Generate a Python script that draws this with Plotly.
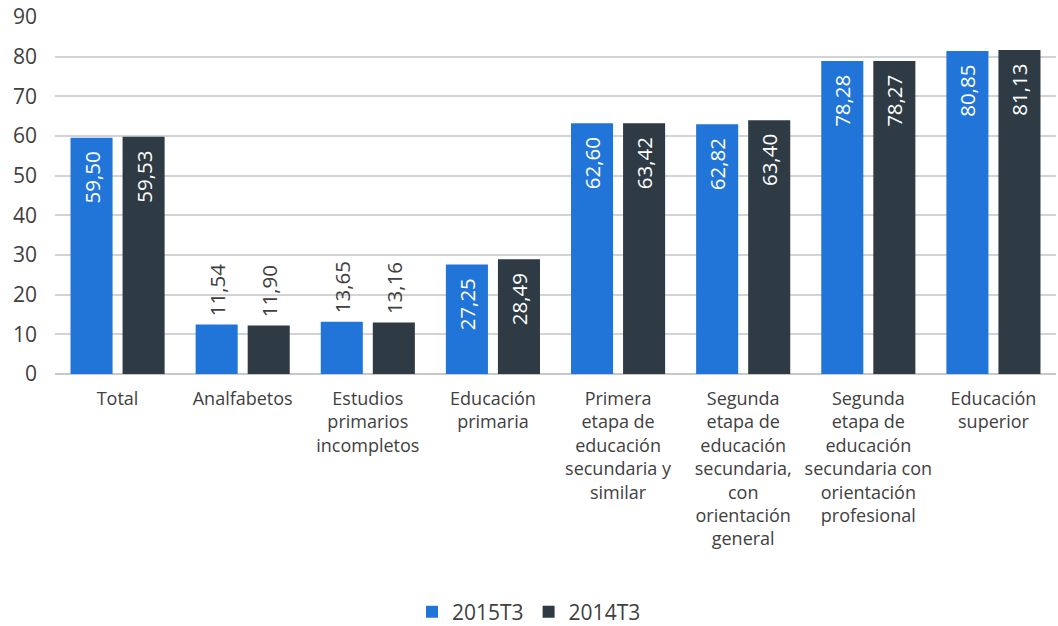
import plotly.graph_objects as go

categories = [
    "Total",
    "Analfabetos",
    "Estudios<br>primarios<br>incompletos",
    "Educación<br>primaria",
    "Primera<br>etapa de<br>educación<br>secundaria y<br>similar",
    "Segunda<br>etapa de<br>educación<br>secundaria,<br>con<br>orientación<br>general",
    "Segunda<br>etapa de<br>educación<br>secundaria con<br>orientación<br>profesional",
    "Educación<br>superior",
]

# bar heights
values_2015 = [59.57, 12.47, 13.2, 27.6, 63.2, 62.95, 78.9, 81.43]
values_2014 = [59.8, 12.2, 13.0, 28.9, 63.2, 63.97, 78.9, 81.7]

# printed data labels
labels_2015 = ["59,50", "11,54", "13,65", "27,25", "62,60", "62,82", "78,28", "80,85"]
labels_2014 = ["59,53", "11,90", "13,16", "28,49", "63,42", "63,40", "78,27", "81,13"]

y_ticks = [0, 10, 20, 30, 40, 50, 60, 70, 80, 90]

BLUE = "#2175D9"
DARK = "#2E3A44"
GREY = "#404040"
FONT = "Open Sans"

fig = go.Figure()
for name, vals, labs, col in [
    ("2015T3", values_2015, labels_2015, BLUE),
    ("2014T3", values_2014, labels_2014, DARK),
]:
    pos = ["outside" if v < 20 else "inside" for v in vals]
    txt = ["\u00a0" + t if p == "outside" else t + "\u00a0\u00a0" for t, p in zip(labs, pos)]
    fig.add_trace(go.Bar(
        x=categories, y=vals, name=name, marker=dict(color=col, line=dict(width=0)),
        text=txt, textposition=pos,
        textangle=-90, insidetextanchor="end", constraintext="none",
        insidetextfont=dict(color="white", size=20.5, family=FONT),
        outsidetextfont=dict(color=GREY, size=20.5, family=FONT),
        cliponaxis=False, hoverinfo="skip",
    ))

fig.update_layout(
    width=1058, height=626,
    margin=dict(l=55, r=2, t=17, b=252),
    paper_bgcolor="white", plot_bgcolor="white",
    barmode="group", bargap=0.168, bargroupgap=0.192,
    font=dict(family=FONT, color=GREY, size=18),
    showlegend=True,
    legend=dict(orientation="h", x=0.5, xanchor="center", xref="container",
                y=1 - 612 / 626, yanchor="middle", yref="container",
                font=dict(size=21, color=GREY, family=FONT), traceorder="normal",
                itemwidth=30),
    xaxis=dict(tickfont=dict(size=18, color=GREY), showgrid=False, showline=False,
               ticks="", tickangle=0, ticklabelstandoff=12, automargin=False),
    yaxis=dict(range=[0, 90], tickvals=y_ticks, showgrid=True, gridcolor="#D3D3D3",
               gridwidth=1.5, zeroline=True, zerolinecolor="#C8C8C8", zerolinewidth=1.5,
               showline=False, tickfont=dict(size=21, color=GREY), ticklabelstandoff=17,
               automargin=False),
)

fig.write_html("out.html", config={"displayModeBar": False},
               post_script="document.body.style.margin='0';")
